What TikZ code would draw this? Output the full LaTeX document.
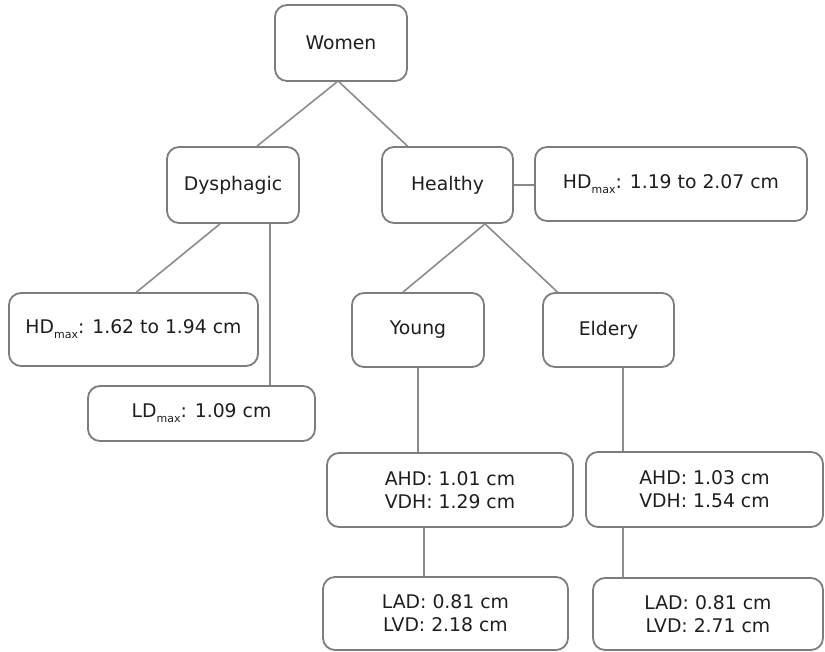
\documentclass[tikz,border=0pt]{standalone}
\usepackage{fontspec}
\setmainfont{DejaVu Sans}
\definecolor{boxline}{RGB}{125,125,125}
\definecolor{linkline}{RGB}{140,140,140}
\definecolor{txt}{RGB}{30,30,30}
\tikzset{
  box/.style={draw=boxline, line width=1.8pt, rounded corners=12pt, fill=white,
    align=center, text=txt, inner sep=0pt,
    font=\fontsize{18.8}{23}\selectfont},
  link/.style={draw=linkline, line width=1.6pt}
}
% lowered small "max" subscript
\newcommand{\mx}{\raisebox{-5pt}{\fontsize{11}{11}\selectfont max}}
\begin{document}
\begin{tikzpicture}[x=1pt,y=-1pt]
\useasboundingbox (0,0) rectangle (825,652);
% tree nodes
\node[box, minimum width=132pt, minimum height=76pt] (women) at (341,43) {Women};
\node[box, minimum width=132pt, minimum height=76pt] (dys) at (233,185) {Dysphagic};
\node[box, minimum width=131pt, minimum height=76pt] (healthy) at (447.5,185) {Healthy};
\node[box, minimum width=272pt, minimum height=74pt] (hdh) at (671,184) {HD\mx: 1.19 to 2.07 cm};
\node[box, minimum width=249pt, minimum height=73pt] (hdd) at (133.5,329.5) {HD\mx: 1.62 to 1.94 cm};
\node[box, minimum width=227pt, minimum height=55pt] (ld) at (201.5,413.5) {LD\mx: 1.09 cm};
\node[box, minimum width=132pt, minimum height=74pt] (young) at (418,330) {Young};
\node[box, minimum width=131pt, minimum height=74pt] (eld) at (608.5,330) {Eldery};
\node[box, minimum width=246pt, minimum height=74pt] (ahdy) at (450,490) {AHD: 1.01 cm\\VDH: 1.29 cm};
\node[box, minimum width=237pt, minimum height=75pt] (ahde) at (704.5,489.5) {AHD: 1.03 cm\\VDH: 1.54 cm};
\node[box, minimum width=245pt, minimum height=73pt] (lady) at (445.5,613.5) {LAD: 0.81 cm\\LVD: 2.18 cm};
\node[box, minimum width=230pt, minimum height=72pt] (lade) at (708,614) {LAD: 0.81 cm\\LVD: 2.71 cm};
% connectors
\draw[link] ([xshift=-4pt]women.south) -- ([xshift=24pt]dys.north);
\draw[link] ([xshift=-2pt]women.south) -- ([xshift=-40pt]healthy.north);
\draw[link] ([xshift=-13pt]dys.south) -- ([xshift=3pt]hdd.north);
\draw[link] ([xshift=37pt]dys.south) -- ([xshift=37pt]dys.south |- ld.north);
\draw[link] (healthy.east) -- (hdh.west |- healthy.east);
\draw[link] ([xshift=37.5pt]healthy.south) -- ([xshift=-15pt]young.north);
\draw[link] ([xshift=37.5pt]healthy.south) -- ([xshift=-51pt]eld.north);
\draw[link] (young.south) -- (young.south |- ahdy.north);
\draw[link] ([xshift=-26pt]ahdy.south) -- ([xshift=-26pt]ahdy.south |- lady.north);
\draw[link] ([xshift=14.5pt]eld.south) -- ([xshift=14.5pt]eld.south |- ahde.north);
\draw[link] ([xshift=14.5pt]eld.south |- ahde.south) -- ([xshift=14.5pt]eld.south |- lade.north);
\end{tikzpicture}
\end{document}
